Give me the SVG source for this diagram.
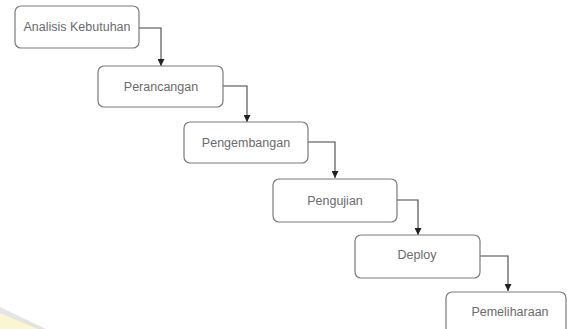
<svg xmlns="http://www.w3.org/2000/svg" width="567" height="329" viewBox="0 0 567 329">
<style>
.box{fill:#fff;stroke:#7a7a7a;stroke-width:1.2}
.lbl{font-family:"Liberation Sans",Arial,sans-serif;font-size:12.5px;fill:#6a6a6a;text-anchor:middle;dominant-baseline:central}
.con{fill:none;stroke:#444;stroke-width:1.1;marker-end:url(#ah)}
</style>
<defs>
<marker id="ah" viewBox="0 0 10 10" refX="10" refY="5" markerWidth="7" markerHeight="7" markerUnits="userSpaceOnUse" orient="auto">
<path d="M0,0 L10,5 L0,10 z" fill="#222"/>
</marker>
</defs>
<rect width="567" height="329" fill="#fff"/>
<g id="watermark">
<polygon points="0,313 45,329 0,329" fill="#fbf6d2"/>
<polygon points="0,307 46,329 38,329 0,313" fill="#d8d8de" opacity="0.7"/>
</g>
<g id="connectors">
<path class="con" d="M139,28 H161 V66"/>
<path class="con" d="M223,86 H247 V122"/>
<path class="con" d="M308,142 H335 V178"/>
<path class="con" d="M397,200 H418 V235"/>
<path class="con" d="M480,256 H508 V291"/>
</g>
<g id="n1"><rect class="box" x="15" y="6" width="124" height="42" rx="6"/><text class="lbl" x="77" y="27">Analisis Kebutuhan</text></g>
<g id="n2"><rect class="box" x="98" y="66" width="125" height="41" rx="6"/><text class="lbl" x="161" y="87">Perancangan</text></g>
<g id="n3"><rect class="box" x="184" y="122" width="124" height="41" rx="6"/><text class="lbl" x="246" y="143">Pengembangan</text></g>
<g id="n4"><rect class="box" x="273" y="179" width="124" height="43" rx="6"/><text class="lbl" x="335" y="201">Pengujian</text></g>
<g id="n5"><rect class="box" x="355" y="235" width="125" height="43" rx="6"/><text class="lbl" x="417" y="255">Deploy</text></g>
<g id="n6"><rect class="box" x="446" y="292" width="120" height="45" rx="6"/><text class="lbl" x="510" y="312">Pemeliharaan</text></g>
</svg>
